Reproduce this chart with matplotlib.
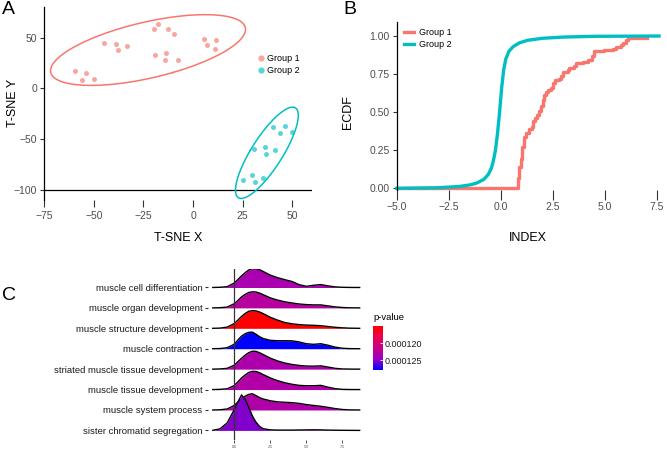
import matplotlib
matplotlib.use("Agg")
import matplotlib.pyplot as plt
import numpy as np
from matplotlib.colors import LinearSegmentedColormap, Normalize
from matplotlib.ticker import FuncFormatter
from matplotlib.lines import Line2D

plt.rcParams['font.family'] = ['Liberation Sans', 'DejaVu Sans']

# ---- panel A: t-SNE points
g1_x = [-59.4, -56.0, -54.2, -50.0, -45.1, -38.9, -37.8, -33.2, -19.5, -17.5,
        -19.4, -13.8, -14.0, -12.4, -9.7, -7.7, 5.4, 6.9, 11.4, 11.2]
g1_y = [16.7, 8.8, 15.0, 9.5, 45.1, 44.1, 37.9, 41.5, 58.5, 63.4,
        32.4, 34.6, 28.1, 58.8, 53.9, 28.1, 49.0, 43.1, 47.7, 38.9]
g2_x = [40.4, 46.3, 43.8, 50.0, 30.7, 36.1, 36.9, 41.4, 25.3, 29.5, 31.5, 35.2]
g2_y = [-37.9, -36.6, -43.5, -43.1, -59.8, -57.2, -64.7, -60.8, -89.5, -85.0,
        -92.2, -87.6]
ellipse_level = 0.9

# ---- panel B: ECDF curves
ecdf1_x = [-5.0, 0.85, 0.9, 0.97, 1.05, 1.13, 1.2, 1.35, 1.49, 1.55, 1.65, 1.75,
           1.85, 1.95, 2.03, 2.1, 2.18, 2.3, 2.42, 2.5, 2.62, 2.8, 2.9, 2.98,
           3.25, 3.3, 3.55, 3.62, 3.95, 4.2, 4.42, 4.47, 4.95, 5.4, 5.55, 5.8,
           5.9, 6.05, 6.12, 7.02]
ecdf1_y = [0.0, 0.07, 0.14, 0.19, 0.27, 0.34, 0.365, 0.39, 0.40, 0.44, 0.46,
           0.48, 0.51, 0.54, 0.58, 0.61, 0.63, 0.645, 0.66, 0.69, 0.71, 0.72,
           0.74, 0.765, 0.775, 0.79, 0.80, 0.82, 0.83, 0.84, 0.87, 0.90, 0.91,
           0.915, 0.93, 0.94, 0.955, 0.975, 0.985, 0.985]
ecdf2_x = [-5.0, -3.0, -2.0, -1.5, -1.2, -1.0, -0.8, -0.6, -0.45, -0.35, -0.25,
           -0.15, -0.05, 0.05, 0.15, 0.25, 0.4, 0.6, 0.9, 1.3, 2.0, 3.0, 4.5,
           7.62]
ecdf2_y = [0.0, 0.004, 0.012, 0.022, 0.032, 0.045, 0.06, 0.09, 0.13, 0.18,
           0.25, 0.36, 0.50, 0.66, 0.78, 0.85, 0.90, 0.93, 0.955, 0.972, 0.985,
           0.993, 0.998, 1.0]

# ---- panel C: ridgeline densities (top row first)
terms = ['muscle cell differentiation', 'muscle organ development',
         'muscle structure development', 'muscle contraction',
         'striated muscle tissue development', 'muscle tissue development',
         'muscle system process', 'sister chromatid segregation']
pvals = [0.0001236, 0.0001227, 0.0001148, 0.0001280,
         0.0001234, 0.0001231, 0.0001232, 0.0001252]
dens_x = [-1.5, -1.0, -0.5, 0.0, 0.25, 0.5, 0.75, 1.0, 1.25, 1.5, 1.75, 2.0,
          2.5, 3.0, 3.5, 4.0, 4.5, 5.0, 5.5, 6.0, 6.5, 7.0, 7.5, 8.0, 8.7]
dens = [
    [0, 0.2, 0.8, 4.5, 8.0, 11.6, 14.8, 17.5, 18.8, 18.9, 17.8, 16.0,
     12.3, 9.8, 7.8, 6.0, 2.8, 1.2, 2.2, 2.9, 1.6, 0.6, 0.2, 0.05, 0],
    [0, 0.2, 0.8, 4.2, 7.5, 11.0, 13.5, 15.4, 16.1, 15.9, 14.8, 13.2,
     10.0, 7.8, 6.1, 4.9, 3.9, 3.3, 3.0, 3.0, 2.0, 1.0, 0.4, 0.1, 0],
    [0, 0.2, 1.2, 4.8, 8.3, 11.9, 14.8, 17.0, 17.7, 17.4, 16.3, 14.7,
     11.0, 8.2, 5.8, 4.5, 3.7, 3.2, 3.0, 2.6, 1.8, 1.0, 0.5, 0.15, 0],
    [0, 0.2, 1.0, 4.5, 8.8, 12.6, 15.0, 16.4, 16.6, 14.5, 12.0, 10.2,
     8.4, 8.0, 8.0, 7.9, 6.8, 5.0, 4.4, 5.0, 3.5, 1.6, 0.5, 0.1, 0],
    [0, 0.2, 0.8, 4.0, 7.5, 10.9, 14.0, 16.5, 17.9, 17.8, 16.4, 14.6,
     11.0, 8.2, 6.1, 4.7, 3.7, 3.1, 3.0, 3.3, 2.1, 0.8, 0.2, 0.05, 0],
    [0, 0.2, 0.8, 4.0, 7.8, 11.6, 14.6, 17.1, 18.2, 18.1, 16.8, 15.0,
     11.6, 8.9, 6.8, 5.3, 4.2, 3.8, 3.8, 4.2, 2.4, 0.9, 0.2, 0.05, 0],
    [0, 0.2, 1.0, 4.6, 8.0, 11.0, 13.8, 15.6, 16.2, 14.4, 12.4, 11.0,
     9.2, 8.1, 7.7, 7.3, 6.6, 5.4, 4.5, 3.7, 2.6, 1.4, 0.5, 0.1, 0],
    [0.1, 1.5, 7.5, 21.0, 28.5, 35.5, 31.0, 23.0, 14.5, 8.2, 4.0, 1.7,
     0.5, 0.3, 0.3, 0.3, 0.4, 0.5, 0.6, 0.5, 0.3, 0.2, 0.1, 0.05, 0],
]

red, cyan = '#F8766D', '#00BFC4'
W, H = 667, 449


def box(l, t, r, b):
    return [l / W, 1 - b / H, (r - l) / W, (b - t) / H]


def ellipse(xs, ys, level, n=200):
    pts = np.column_stack([xs, ys])
    c = pts.mean(axis=0)
    vals, vecs = np.linalg.eigh(np.cov(pts.T))
    r = np.sqrt(-2 * np.log(1 - level))
    t = np.linspace(0, 2 * np.pi, n)
    circ = np.vstack([np.cos(t), np.sin(t)]) * np.sqrt(vals)[:, None] * r
    e = vecs @ circ
    return c[0] + e[0], c[1] + e[1]


def fmt(digits):
    return FuncFormatter(lambda v, pos: f'{v:.{digits}f}'.replace('-', '\u2212'))


fig = plt.figure(figsize=(6.67, 4.49), dpi=100)
tick_col = '#4D4D4D'

# ================= A
axA = fig.add_axes(box(44.3, 7, 312, 200))
axA.set_xlim(-75, 60)
axA.set_ylim(-109.5, 80)
for s in ['top', 'right', 'bottom']:
    axA.spines[s].set_visible(False)
axA.spines['left'].set_linewidth(0.9)
axA.axhline(-100, color='black', lw=0.9)
axA.scatter(g1_x, g1_y, s=13, color=red, alpha=0.65, lw=0, label='Group 1')
axA.scatter(g2_x, g2_y, s=13, color=cyan, alpha=0.65, lw=0, label='Group 2')
ex, ey = ellipse(g1_x, g1_y, ellipse_level)
axA.plot(ex, ey, color=red, lw=1.1)
ex, ey = ellipse(g2_x, g2_y, ellipse_level)
axA.plot(ex, ey, color=cyan, lw=1.1)
axA.set_xticks([-75, -50, -25, 0, 25, 50])
axA.set_yticks([-100, -50, 0, 50])
axA.tick_params(axis='x', length=5, width=0.8, color='#333333', labelsize=7.5,
                labelcolor=tick_col, pad=3)
axA.tick_params(axis='y', length=3, width=0.8, color='#333333', labelsize=7.5,
                labelcolor=tick_col, pad=2)
axA.set_xlabel('T-SNE X', fontsize=9)
axA.set_ylabel('T-SNE Y', fontsize=9)
axA.xaxis.set_label_coords(0.5, -0.197)
axA.xaxis.label.set_va('center')
axA.yaxis.set_label_coords(-0.117, 0.503)
axA.yaxis.label.set_va('center')
hA = [Line2D([], [], marker='o', ls='', color=c, alpha=0.65, markersize=4.5,
             markeredgewidth=0) for c in (red, cyan)]
axA.legend(hA, ['Group 1', 'Group 2'], loc='upper left', frameon=False,
           bbox_to_anchor=((258 - 44.3) / 267.7, (200 - 54) / 193),
           fontsize=6.5, handlelength=0.6, handletextpad=0.4, labelspacing=0.35,
           borderaxespad=0, borderpad=0)

# ================= B
axB = fig.add_axes(box(396.7, 21.7, 659, 190))
axB.set_xlim(-5.0, 7.62)
axB.set_ylim(-0.011, 1.094)
for s in ['top', 'right', 'bottom']:
    axB.spines[s].set_visible(False)
axB.spines['left'].set_linewidth(0.9)
axB.plot(ecdf1_x, ecdf1_y, drawstyle='steps-post', color=red, lw=2.4,
         clip_on=False, label='Group 1')
axB.plot(ecdf2_x, ecdf2_y, color=cyan, lw=2.4, clip_on=False, label='Group 2')
axB.set_xticks([-5.0, -2.5, 0.0, 2.5, 5.0, 7.5])
axB.set_yticks([0, 0.25, 0.5, 0.75, 1.0])
axB.xaxis.set_major_formatter(fmt(1))
axB.yaxis.set_major_formatter(fmt(2))
axB.tick_params(axis='x', length=7, width=0.8, color='#333333', labelsize=7.5,
                labelcolor=tick_col, pad=2)
axB.tick_params(axis='y', length=3, width=0.8, color='#333333', labelsize=7.5,
                labelcolor=tick_col, pad=2)
axB.set_xlabel('INDEX', fontsize=9)
axB.set_ylabel('ECDF', fontsize=9)
axB.xaxis.set_label_coords(0.5, -0.285)
axB.xaxis.label.set_va('center')
axB.yaxis.set_label_coords(-0.186, 0.463)
axB.yaxis.label.set_va('center')
axB.legend(loc='upper left', frameon=False,
           bbox_to_anchor=((404 - 396.7) / 262.3, (190 - 28) / 168.3),
           fontsize=6.5, handlelength=1.1, handletextpad=0.6, labelspacing=0.3,
           borderaxespad=0, borderpad=0)

# ================= C
cmap = LinearSegmentedColormap.from_list(
    'pv', ['#FF0000', '#E80050', '#CA0089', '#9A00C3', '#0000FF'])
norm = Normalize(0.0001148, 0.0001280)
ridge_scale = 1 / 20.4

axC = fig.add_axes(box(208, 268.7, 365, 440))
axC.set_xlim(-1.83, 9.07)
axC.set_ylim(-0.47, 7.92)
for s in axC.spines.values():
    s.set_visible(False)
n = len(terms)
for i, (name, p, d) in enumerate(zip(terms, pvals, dens)):
    base = n - 1 - i
    top = base + np.array(d) * ridge_scale
    axC.fill_between(dens_x, base, top, color=cmap(norm(p)), lw=0,
                     zorder=2 * i + 1)
    axC.plot(dens_x, top, color='black', lw=1.0, zorder=2 * i + 2)
axC.axvline(0, color='#333333', lw=0.9, zorder=40)
axC.set_yticks(range(n))
axC.set_yticklabels(terms[::-1])
axC.set_xticks([0, 2.5, 5.0, 7.5])
axC.set_xticklabels(['0.0', '2.5', '5.0', '7.5'])
axC.tick_params(axis='y', length=2.5, width=0.8, color='#333333', labelsize=6.8,
                labelcolor='#1A1A1A', pad=1.5)
axC.tick_params(axis='x', length=2.5, width=0.6, color='#333333', labelsize=2.6,
                labelcolor=tick_col, pad=1)

# colorbar
cax = fig.add_axes(box(373.3, 326, 382.7, 370))
sm = plt.cm.ScalarMappable(norm=norm, cmap=cmap)
cb = fig.colorbar(sm, cax=cax)
cb.outline.set_visible(False)
cax.invert_yaxis()
cb.set_ticks([0.000120, 0.000125])
cb.set_ticklabels(['0.000120', '0.000125'])
cax.tick_params(length=2, width=0.6, color='white', direction='in',
                labelsize=6.5, labelcolor='#1A1A1A', pad=1.5)
fig.text(373 / W, 1 - 317.5 / H, 'p-value', fontsize=6.8, va='center',
         ha='left')

# panel letters
fig.text(2 / W, 1 - 1 / H, 'A', fontsize=14, va='top')
fig.text(343 / W, 1 - 1 / H, 'B', fontsize=14, va='top')
fig.text(2 / W, 1 - 287 / H, 'C', fontsize=14, va='top')

fig.savefig('out.png', dpi=100)
